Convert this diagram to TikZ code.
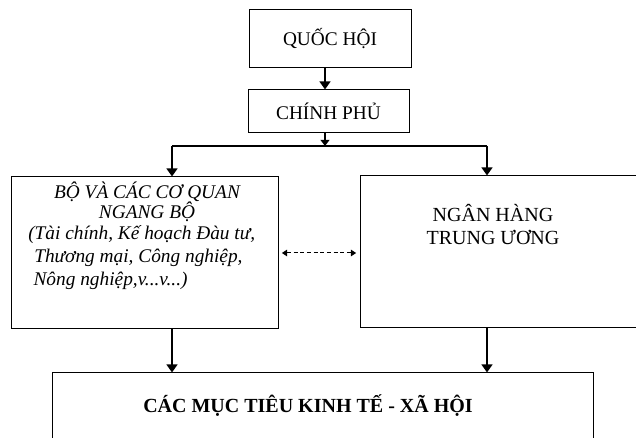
\documentclass[tikz,border=0pt]{standalone}
\usepackage{fontspec}
\setmainfont{Liberation Serif}
\usetikzlibrary{arrows.meta}

\begin{document}
\begin{tikzpicture}[x=0.75pt,y=0.75pt,yscale=-1,xscale=1,
  box/.style={draw, line width=0.75, inner sep=0pt, font=\fontsize{14.5}{17}\selectfont},
  txt/.style={inner sep=0.75pt, font=\fontsize{14.5}{17}\selectfont},
  flow/.style={line width=1.5, -{Triangle[length=6pt,width=8pt]}},
  smallflow/.style={line width=1.5, -{Triangle[length=4.5pt,width=6.5pt]}},
  dashflow/.style={line width=0.75, dash pattern=on 3pt off 2pt, {Triangle[length=4pt,width=5pt]}-{Triangle[length=4pt,width=5pt]}, shorten <=2.5pt, shorten >=2.5pt}]
\useasboundingbox (0,0) rectangle (636,438);
\clip (0,0) rectangle (636,438);

%Shape: Rectangle
\node [box, minimum width=121.5pt, minimum height=43.5pt] (qh) at (330,39) {QUỐC HỘI};
%Shape: Rectangle
\node [box, minimum width=120.75pt, minimum height=32.25pt] (cp) at (328.5,111.5) {CHÍNH PHỦ};
%Shape: Rectangle
\node [box, minimum width=200.25pt, minimum height=114pt] (bo) at (144.5,253) {};
%Shape: Rectangle
\node [box, minimum width=217.5pt, minimum height=114pt] (nh) at (505,252) {};
%Shape: Rectangle
\node [box, minimum width=405.75pt, minimum height=72.75pt] (mt) at (322.5,421.5) {};

%Straight Lines
\coordinate (split) at (325,146);
\coordinate (jl) at (172,146);
\coordinate (jr) at (487,146);
\draw [flow] (qh.south -| split) -- (cp.north -| split);
\draw [smallflow] (cp.south -| split) -- (split);
\draw [line width=1.5] (jl) -- (jr);
\draw [flow] (jl) -- (jl |- bo.north);
\draw [flow] (jr) -- (jr |- nh.north);
\draw [flow] (bo.south -| jl) -- (mt.north -| jl);
\draw [flow] (nh.south -| jr) -- (mt.north -| jr);
\draw [dashflow] (bo.east) -- (bo.east -| nh.west);

% Text Node
\node [txt, align=center, font=\fontsize{14.5}{15}\selectfont\itshape] (botitle) at (147,202) {BỘ VÀ CÁC CƠ QUAN\\NGANG BỘ};
% Text Node
\node [txt, align=left, anchor=west, font=\fontsize{14.5}{17}\selectfont\itshape] (bolist) at (27,257.5) {(Tài chính, Kế hoạch Đàu tư,\\\hspace{4.5pt}Thương mại, Công nghiệp,\\\hspace{4pt}Nông nghiệp,v...v...)};
% Text Node
\node [txt, align=center, font=\fontsize{15}{17}\selectfont] (nhtext) at (493,224.5) {NGÂN HÀNG\\TRUNG ƯƠNG};
% Text Node
\node [txt, font=\fontsize{15}{17}\selectfont\bfseries] (mttext) at (308,406) {CÁC MỤC TIÊU KINH TẾ - XÃ HỘI};

\end{tikzpicture}
\end{document}
